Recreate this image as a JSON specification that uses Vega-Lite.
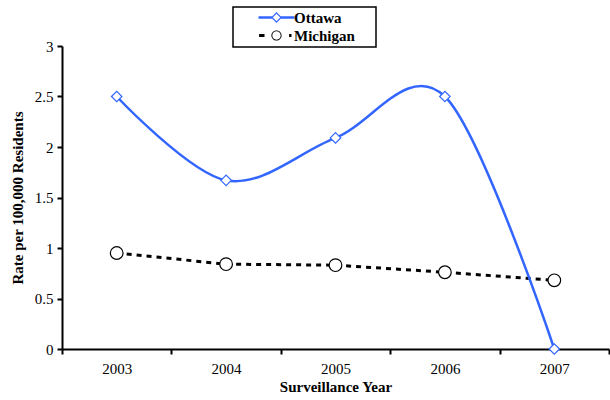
{
  "$schema": "https://vega.github.io/schema/vega-lite/v6.json",
  "width": 547,
  "height": 303,
  "autosize": {"type": "none"},
  "padding": {"left": 62, "top": 46, "right": 1, "bottom": 51},
  "background": "white",
  "config": {"view": {"stroke": null}, "font": "Liberation Serif"},
  "data": {
    "values": [
      {"year": "2003", "series": "Ottawa", "rate": 2.5},
      {"year": "2004", "series": "Ottawa", "rate": 1.67},
      {"year": "2005", "series": "Ottawa", "rate": 2.09},
      {"year": "2006", "series": "Ottawa", "rate": 2.5},
      {"year": "2007", "series": "Ottawa", "rate": 0},
      {"year": "2003", "series": "Michigan", "rate": 0.95},
      {"year": "2004", "series": "Michigan", "rate": 0.84},
      {"year": "2005", "series": "Michigan", "rate": 0.83},
      {"year": "2006", "series": "Michigan", "rate": 0.76},
      {"year": "2007", "series": "Michigan", "rate": 0.68}
    ]
  },
  "encoding": {
    "x": {
      "field": "year", "type": "nominal",
      "scale": {"type": "band", "paddingInner": 0, "paddingOuter": 0},
      "axis": {
        "title": "Surveillance Year", "labelAngle": 0, "tickBand": "extent",
        "domainColor": "black", "domainWidth": 2, "tickColor": "black", "tickWidth": 2, "tickSize": 5,
        "labelFont": "Liberation Serif", "labelFontSize": 15, "labelColor": "black", "labelPadding": 7,
        "titleFont": "Liberation Serif", "titleFontSize": 15, "titleFontWeight": "bold", "titleColor": "black", "titlePadding": 3,
        "grid": false
      }
    },
    "y": {
      "field": "rate", "type": "quantitative",
      "scale": {"domain": [0, 3], "nice": false},
      "axis": {
        "title": "Rate per 100,000 Residents", "values": [0, 0.5, 1, 1.5, 2, 2.5, 3], "format": "~g",
        "domainColor": "black", "domainWidth": 2, "tickColor": "black", "tickWidth": 2, "tickSize": 5,
        "labelFont": "Liberation Serif", "labelFontSize": 15, "labelColor": "black", "labelPadding": 4,
        "titleFont": "Liberation Serif", "titleFontSize": 15, "titleFontWeight": "bold", "titleColor": "black", "titlePadding": 9,
        "grid": false
      }
    }
  },
  "layer": [
    {
      "transform": [{"filter": "datum.series === 'Michigan'"}],
      "mark": {"type": "line", "color": "black", "strokeWidth": 3, "strokeDash": [5, 5]},
      "encoding": {"x": {"field": "year", "type": "nominal", "bandPosition": 0.5}}
    },
    {
      "transform": [{"filter": "datum.series === 'Ottawa'"}],
      "mark": {"type": "line", "color": "#3366FF", "strokeWidth": 2.5, "interpolate": "cardinal", "tension": 0},
      "encoding": {"x": {"field": "year", "type": "nominal", "bandPosition": 0.5}}
    },
    {
      "mark": {"type": "point", "filled": false, "fill": "white", "fillOpacity": 1, "opacity": 1, "strokeWidth": 1.2},
      "encoding": {
        "x": {"field": "year", "type": "nominal", "bandPosition": 0.5},
        "stroke": {"condition": {"test": "datum.series === 'Ottawa'", "value": "#3366FF"}, "value": "black"},
        "shape": {"condition": {"test": "datum.series === 'Ottawa'", "value": "diamond"}, "value": "circle"},
        "size": {"condition": {"test": "datum.series === 'Ottawa'", "value": 110}, "value": 160}
      }
    },
    {
      "transform": [{"filter": "false"}],
      "mark": {"type": "point", "filled": true, "opacity": 1, "strokeWidth": 0},
      "encoding": {
        "x": {"field": "year", "type": "nominal", "bandPosition": 0.5},
        "color": {
          "field": "series", "type": "nominal",
          "scale": {"domain": ["Ottawa", "Michigan"], "range": ["#3366FF", "black"]},
          "legend": {
            "title": null, "orient": "none", "legendX": 171, "legendY": -39,
            "strokeColor": "black", "fillColor": "white", "padding": 3,
            "symbolSize": 144, "symbolOffset": 33, "labelOffset": 10, "rowPadding": 2,
            "symbolOpacity": 1, "symbolStrokeWidth": 0,
            "labelFont": "Liberation Serif", "labelFontSize": 15, "labelFontWeight": "bold", "labelColor": "black",
            "encode": {"legend": {"update": {"strokeWidth": {"value": 1.5}}}}
          }
        },
        "shape": {
          "field": "series", "type": "nominal",
          "scale": {"domain": ["Ottawa", "Michigan"], "range": [
            "M-3,-0.2L-0.62,-0.2L-0.62,0.2L-3,0.2ZM0.62,-0.2L3,-0.2L3,0.2L0.62,0.2ZM0,-0.9L0.9,0L0,0.9L-0.9,0ZM0,-0.62L-0.62,0L0,0.62L0.62,0ZM16,0Z",
            "M-2.9,-0.25L-2,-0.25L-2,0.25L-2.9,0.25ZM0.85,0A0.85,0.85 0 1,1 -0.85,0A0.85,0.85 0 1,1 0.85,0ZM0.7,0A0.7,0.7 0 1,0 -0.7,0A0.7,0.7 0 1,0 0.7,0ZM2.1,-0.25L2.5,-0.25L2.5,0.25L2.1,0.25ZM16,0Z"
          ]}
        }
      }
    }
  ]
}
